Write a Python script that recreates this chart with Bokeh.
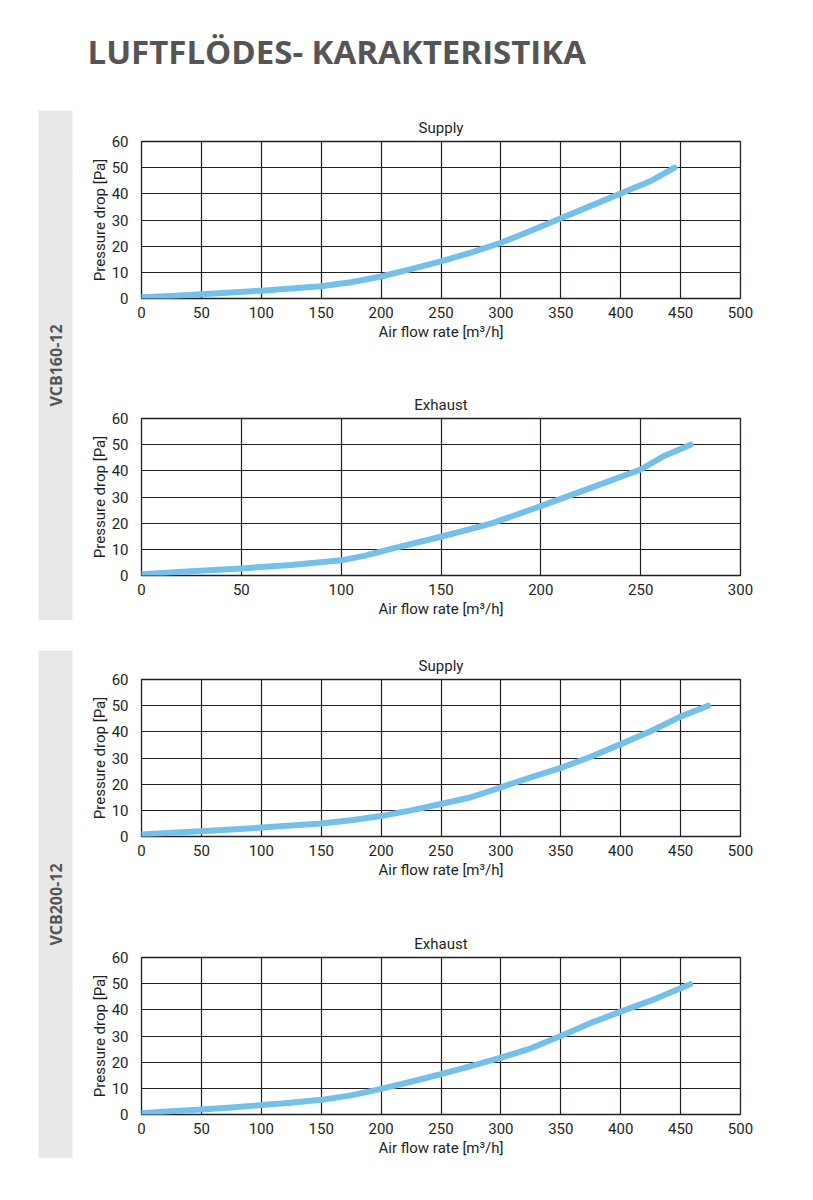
import math

from bokeh.embed import file_html
from bokeh.layouts import column, row
from bokeh.models import Label, SingleIntervalTicker, Spacer
from bokeh.plotting import figure
from bokeh.resources import INLINE

# data
page_title = "LUFTFLÖDES- KARAKTERISTIKA"
units = ["VCB160-12", "VCB200-12"]

vcb160_supply_flow = [0, 25, 50, 75, 100, 125, 150, 175, 200, 225, 250, 275, 300, 325, 350, 375, 400, 425, 445]
vcb160_supply_dp = [0.5, 1.0, 1.6, 2.3, 3.0, 3.8, 4.7, 6.2, 8.4, 11.2, 14.2, 17.5, 21.3, 25.9, 30.7, 35.4, 40.1, 44.9, 50.0]

vcb160_exhaust_flow = [0, 25, 50, 75, 100, 112, 125, 150, 175, 200, 225, 250, 262, 275]
vcb160_exhaust_dp = [0.5, 1.6, 2.7, 4.0, 5.8, 7.6, 10.2, 14.8, 19.8, 26.5, 33.5, 40.5, 45.8, 50.0]

vcb200_supply_flow = [0, 25, 50, 75, 100, 125, 150, 175, 200, 225, 250, 275, 300, 325, 350, 375, 400, 425, 450, 473]
vcb200_supply_dp = [0.8, 1.4, 2.0, 2.7, 3.4, 4.2, 5.0, 6.2, 7.8, 10.0, 12.4, 15.0, 18.8, 22.6, 26.2, 30.5, 35.3, 40.2, 45.8, 50.0]

vcb200_exhaust_flow = [0, 25, 50, 75, 100, 125, 150, 175, 200, 225, 250, 275, 300, 325, 350, 375, 400, 425, 458]
vcb200_exhaust_dp = [0.5, 1.2, 1.9, 2.7, 3.6, 4.5, 5.6, 7.3, 9.8, 12.5, 15.4, 18.5, 21.7, 25.3, 30.0, 35.0, 39.3, 43.5, 49.8]

CURVE = "#74c0ea"
INK = "#231f20"
FONT = "Roboto"


def chart(name, flow, dp, x_max, top, bottom):
    p = figure(frame_width=599, frame_height=157,
               min_border_left=61, min_border_right=65,
               min_border_top=top, min_border_bottom=bottom,
               x_range=(0, x_max), y_range=(0, 60),
               title=name, toolbar_location=None, output_backend="svg",
               x_axis_label="Air flow rate [m³/h]", y_axis_label="Pressure drop [Pa]")
    p.title.align = "center"
    p.title.text_font = FONT
    p.title.text_font_size = "15px"
    p.title.text_font_style = "normal"
    p.title.text_color = INK
    p.title.standoff = 9
    p.outline_line_color = INK
    p.outline_line_width = 1.3
    p.xaxis.ticker = SingleIntervalTicker(interval=50)
    p.yaxis.ticker = SingleIntervalTicker(interval=10)
    for ax in (p.xaxis, p.yaxis):
        ax.axis_line_color = None
        ax.major_tick_line_color = None
        ax.minor_tick_line_color = None
        ax.major_label_text_font = FONT
        ax.major_label_text_font_size = "15px"
        ax.major_label_text_color = INK
        ax.axis_label_text_font = FONT
        ax.axis_label_text_font_size = "15px"
        ax.axis_label_text_font_style = "normal"
        ax.axis_label_text_color = INK
    p.xaxis.major_label_standoff = 2
    p.xaxis.axis_label_standoff = 2
    p.yaxis.major_label_standoff = 7
    p.yaxis.axis_label_standoff = 0
    for g in (p.xgrid, p.ygrid):
        g.grid_line_color = INK
        g.grid_line_width = 1.2
    p.line(flow, dp, line_width=6, line_color=CURVE, line_cap="round", line_join="round")
    return p


def band(text, h):
    b = figure(frame_width=34, frame_height=h, min_border_left=38, min_border_right=8,
               min_border_top=0, min_border_bottom=0,
               x_range=(0, 1), y_range=(0, 1), x_axis_type=None, y_axis_type=None,
               toolbar_location=None, output_backend="svg")
    b.grid.visible = False
    b.outline_line_color = None
    b.background_fill_color = "#e8e8e8"
    b.add_layout(Label(x=0.5, y=0.5, text=text, angle=math.pi / 2,
                       text_align="center", text_baseline="middle",
                       text_font="Open Sans", text_font_style="bold",
                       text_font_size="16px", text_color="#555555"))
    return b


head = figure(width=805, height=110, x_range=(0, 1), y_range=(0, 1),
              x_axis_type=None, y_axis_type=None, min_border=0,
              toolbar_location=None, output_backend="svg")
head.grid.visible = False
head.outline_line_color = None
head.add_layout(Label(x=87, y=37, x_units="screen", y_units="screen", text=page_title,
                      text_font="Open Sans", text_font_style="bold",
                      text_font_size="33px", text_color="#555555"))

c1 = chart("Supply", vcb160_supply_flow, vcb160_supply_dp, 500, 31, 87)
c2 = chart("Exhaust", vcb160_exhaust_flow, vcb160_exhaust_dp, 300, 33, 40)
c3 = chart("Supply", vcb200_supply_flow, vcb200_supply_dp, 500, 29, 84)
c4 = chart("Exhaust", vcb200_exhaust_flow, vcb200_exhaust_dp, 500, 37, 40)

layout = column(
    head,
    row(band(units[0], 510), column(c1, c2)),
    Spacer(width=805, height=30),
    row(band(units[1], 508), column(c3, c4)),
)

open("out.html", "w").write(file_html(layout, INLINE))
